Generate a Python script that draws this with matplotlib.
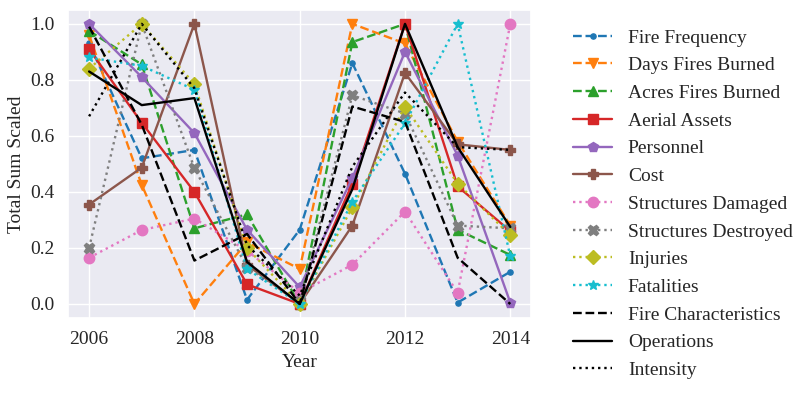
import matplotlib
matplotlib.use("Agg")
import matplotlib.pyplot as plt
import seaborn as sns

sns.set_theme(style="darkgrid")
plt.rcParams['font.family'] = ['Liberation Serif', 'DejaVu Serif']

years = [2006, 2007, 2008, 2009, 2010, 2011, 2012, 2013, 2014]

fire_frequency = [0.93, 0.52, 0.55, 0.015, 0.265, 0.86, 0.465, 0.005, 0.115]
days_burned = [0.96, 0.425, 0.0, 0.22, 0.125, 1.0, 0.93, 0.58, 0.28]
acres_burned = [0.975, 0.855, 0.27, 0.32, 0.0, 0.935, 1.0, 0.265, 0.175]
aerial_assets = [0.91, 0.647, 0.40, 0.07, 0.0, 0.43, 1.0, 0.42, 0.26]
personnel = [1.0, 0.81, 0.61, 0.265, 0.06, 0.45, 0.90, 0.53, 0.005]
cost = [0.355, 0.487, 1.0, 0.14, 0.0, 0.28, 0.825, 0.57, 0.55]
structures_damaged = [0.165, 0.264, 0.305, 0.19, 0.04, 0.14, 0.33, 0.04, 1.0]
structures_destroyed = [0.20, 1.0, 0.485, 0.13, 0.01, 0.745, 0.68, 0.28, 0.27]
injuries = [0.84, 1.0, 0.785, 0.20, 0.0, 0.345, 0.705, 0.43, 0.245]
fatalities = [0.88, 0.85, 0.765, 0.125, 0.0, 0.365, 0.645, 1.0, 0.17]
fire_characteristics = [0.99, 0.64, 0.155, 0.25, 0.0, 0.705, 0.65, 0.165, 0.0]
operations = [0.83, 0.71, 0.735, 0.15, 0.0, 0.41, 1.0, 0.56, 0.275]
intensity = [0.67, 1.0, 0.77, 0.21, 0.03, 0.49, 0.755, 0.56, 0.55]

pal = sns.color_palette("tab10")

series = [
    ("Fire Frequency", fire_frequency, pal[0], '--', '.'),
    ("Days Fires Burned", days_burned, pal[1], '--', 'v'),
    ("Acres Fires Burned", acres_burned, pal[2], '--', '^'),
    ("Aerial Assets", aerial_assets, pal[3], '-', 's'),
    ("Personnel", personnel, pal[4], '-', 'p'),
    ("Cost", cost, pal[5], '-', 'P'),
    ("Structures Damaged", structures_damaged, pal[6], ':', 'o'),
    ("Structures Destroyed", structures_destroyed, pal[7], ':', 'X'),
    ("Injuries", injuries, pal[8], ':', 'D'),
    ("Fatalities", fatalities, pal[9], ':', '*'),
    ("Fire Characteristics", fire_characteristics, 'black', '--', None),
    ("Operations", operations, 'black', '-', None),
    ("Intensity", intensity, 'black', ':', None),
]

fig = plt.figure(figsize=(8.1, 3.95), dpi=100)
ax = fig.add_axes([0.084, 0.195, 0.572, 0.78])

for name, vals, color, ls, mk in series:
    ax.plot(years, vals, color=color, linestyle=ls, marker=mk,
            markersize=7.5, linewidth=1.7, label=name)

ax.set_xlabel("Year", fontsize=14)
ax.set_ylabel("Total Sum Scaled", fontsize=14)
ax.set_xticks([2006, 2008, 2010, 2012, 2014])
ax.set_yticks([0.0, 0.2, 0.4, 0.6, 0.8, 1.0])
ax.tick_params(labelsize=14)

ax.legend(loc='upper left', bbox_to_anchor=(1.053, 0.995), frameon=False,
          fontsize=14, labelspacing=0.52)

fig.savefig("out.png", dpi=100)
